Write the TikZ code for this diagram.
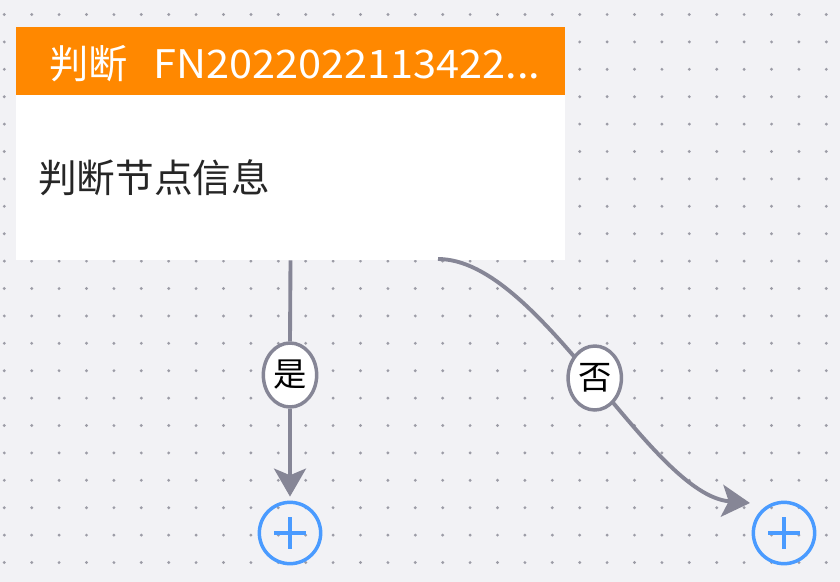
\documentclass[tikz,border=0pt]{standalone}
\usepackage{fontspec}
\setmainfont{Noto Sans CJK SC}
\usetikzlibrary{arrows.meta,shapes.geometric,calc}
\definecolor{bgc}{HTML}{F2F2F5}
\definecolor{dotc}{HTML}{9C9CA6}
\definecolor{hdr}{HTML}{FF8800}
\definecolor{edgec}{HTML}{868696}
\definecolor{plusc}{HTML}{4A9BFF}
\tikzset{
  card/.style={fill=white, minimum width=411.75pt, minimum height=174.75pt, inner sep=0pt},
  header/.style={fill=hdr, minimum width=411.75pt, minimum height=51pt, inner sep=0pt},
  edge/.style={draw=edgec, line width=2.9pt},
  lbl/.style={ellipse, draw=edgec, fill=white, line width=2.6pt, minimum width=40pt, minimum height=48pt, inner sep=0pt, font=\fontsize{25pt}{27pt}\selectfont},
  plusnode/.style={circle, draw=plusc, line width=2.6pt, minimum size=46pt, inner sep=0pt},
  plusbar/.style={draw=plusc, line width=3pt},
  arrowtip/.style={-{Stealth[length=21pt,width=24pt,inset=5pt]}}
}
\begin{document}
\begin{tikzpicture}[x=0.75pt,y=-0.75pt]
\useasboundingbox (0,0) rectangle (840,582);
\fill[bgc] (0,0) rectangle (840,582);
\foreach \i in {0,...,30} {
  \foreach \j in {0,...,20} {
    \fill[dotc] ({4.3+27.4*\i},{14.5+27.4*\j}) circle (1.2pt);
  }
}
\node[card] (card) at (290.5,143.5) {};
\node[header] (head) at (290.5,61) {};
\node[anchor=west, text=white, font=\fontsize{29.5pt}{31pt}\selectfont, inner sep=0pt] (title) at (49,64) {判断\hspace{19pt}\scalebox{1.055}[1]{FN2022022113422...}};
\node[anchor=west, text=black!85, font=\fontsize{29pt}{31pt}\selectfont, inner sep=0pt] (info) at (38,178) {判断节点信息};

\node[plusnode] (plus1) at (290,533) {};
\node[plusnode] (plus2) at (784,533) {};
\draw[plusbar] ($(plus1.center)+(-16,0)$) -- ($(plus1.center)+(16,0)$);
\draw[plusbar] ($(plus1.center)+(0,-16)$) -- ($(plus1.center)+(0,16)$);
\draw[plusbar] ($(plus2.center)+(-16,0)$) -- ($(plus2.center)+(16,0)$);
\draw[plusbar] ($(plus2.center)+(0,-16)$) -- ($(plus2.center)+(0,16)$);

\node[lbl] (yes) at (290,375) {是};
\draw[edge] (card.south) -- (yes.north);
\draw[edge, arrowtip, shorten >=3pt] (yes.south) -- (plus1.north);

\coordinate (rstart) at (438,259);
\coordinate (rtip) at (750,503);
\draw[edge, arrowtip] (rstart) .. controls (540,259) and (650,495) .. (rtip)
  node[lbl, pos=0.5] (no) {否};
\end{tikzpicture}
\end{document}
